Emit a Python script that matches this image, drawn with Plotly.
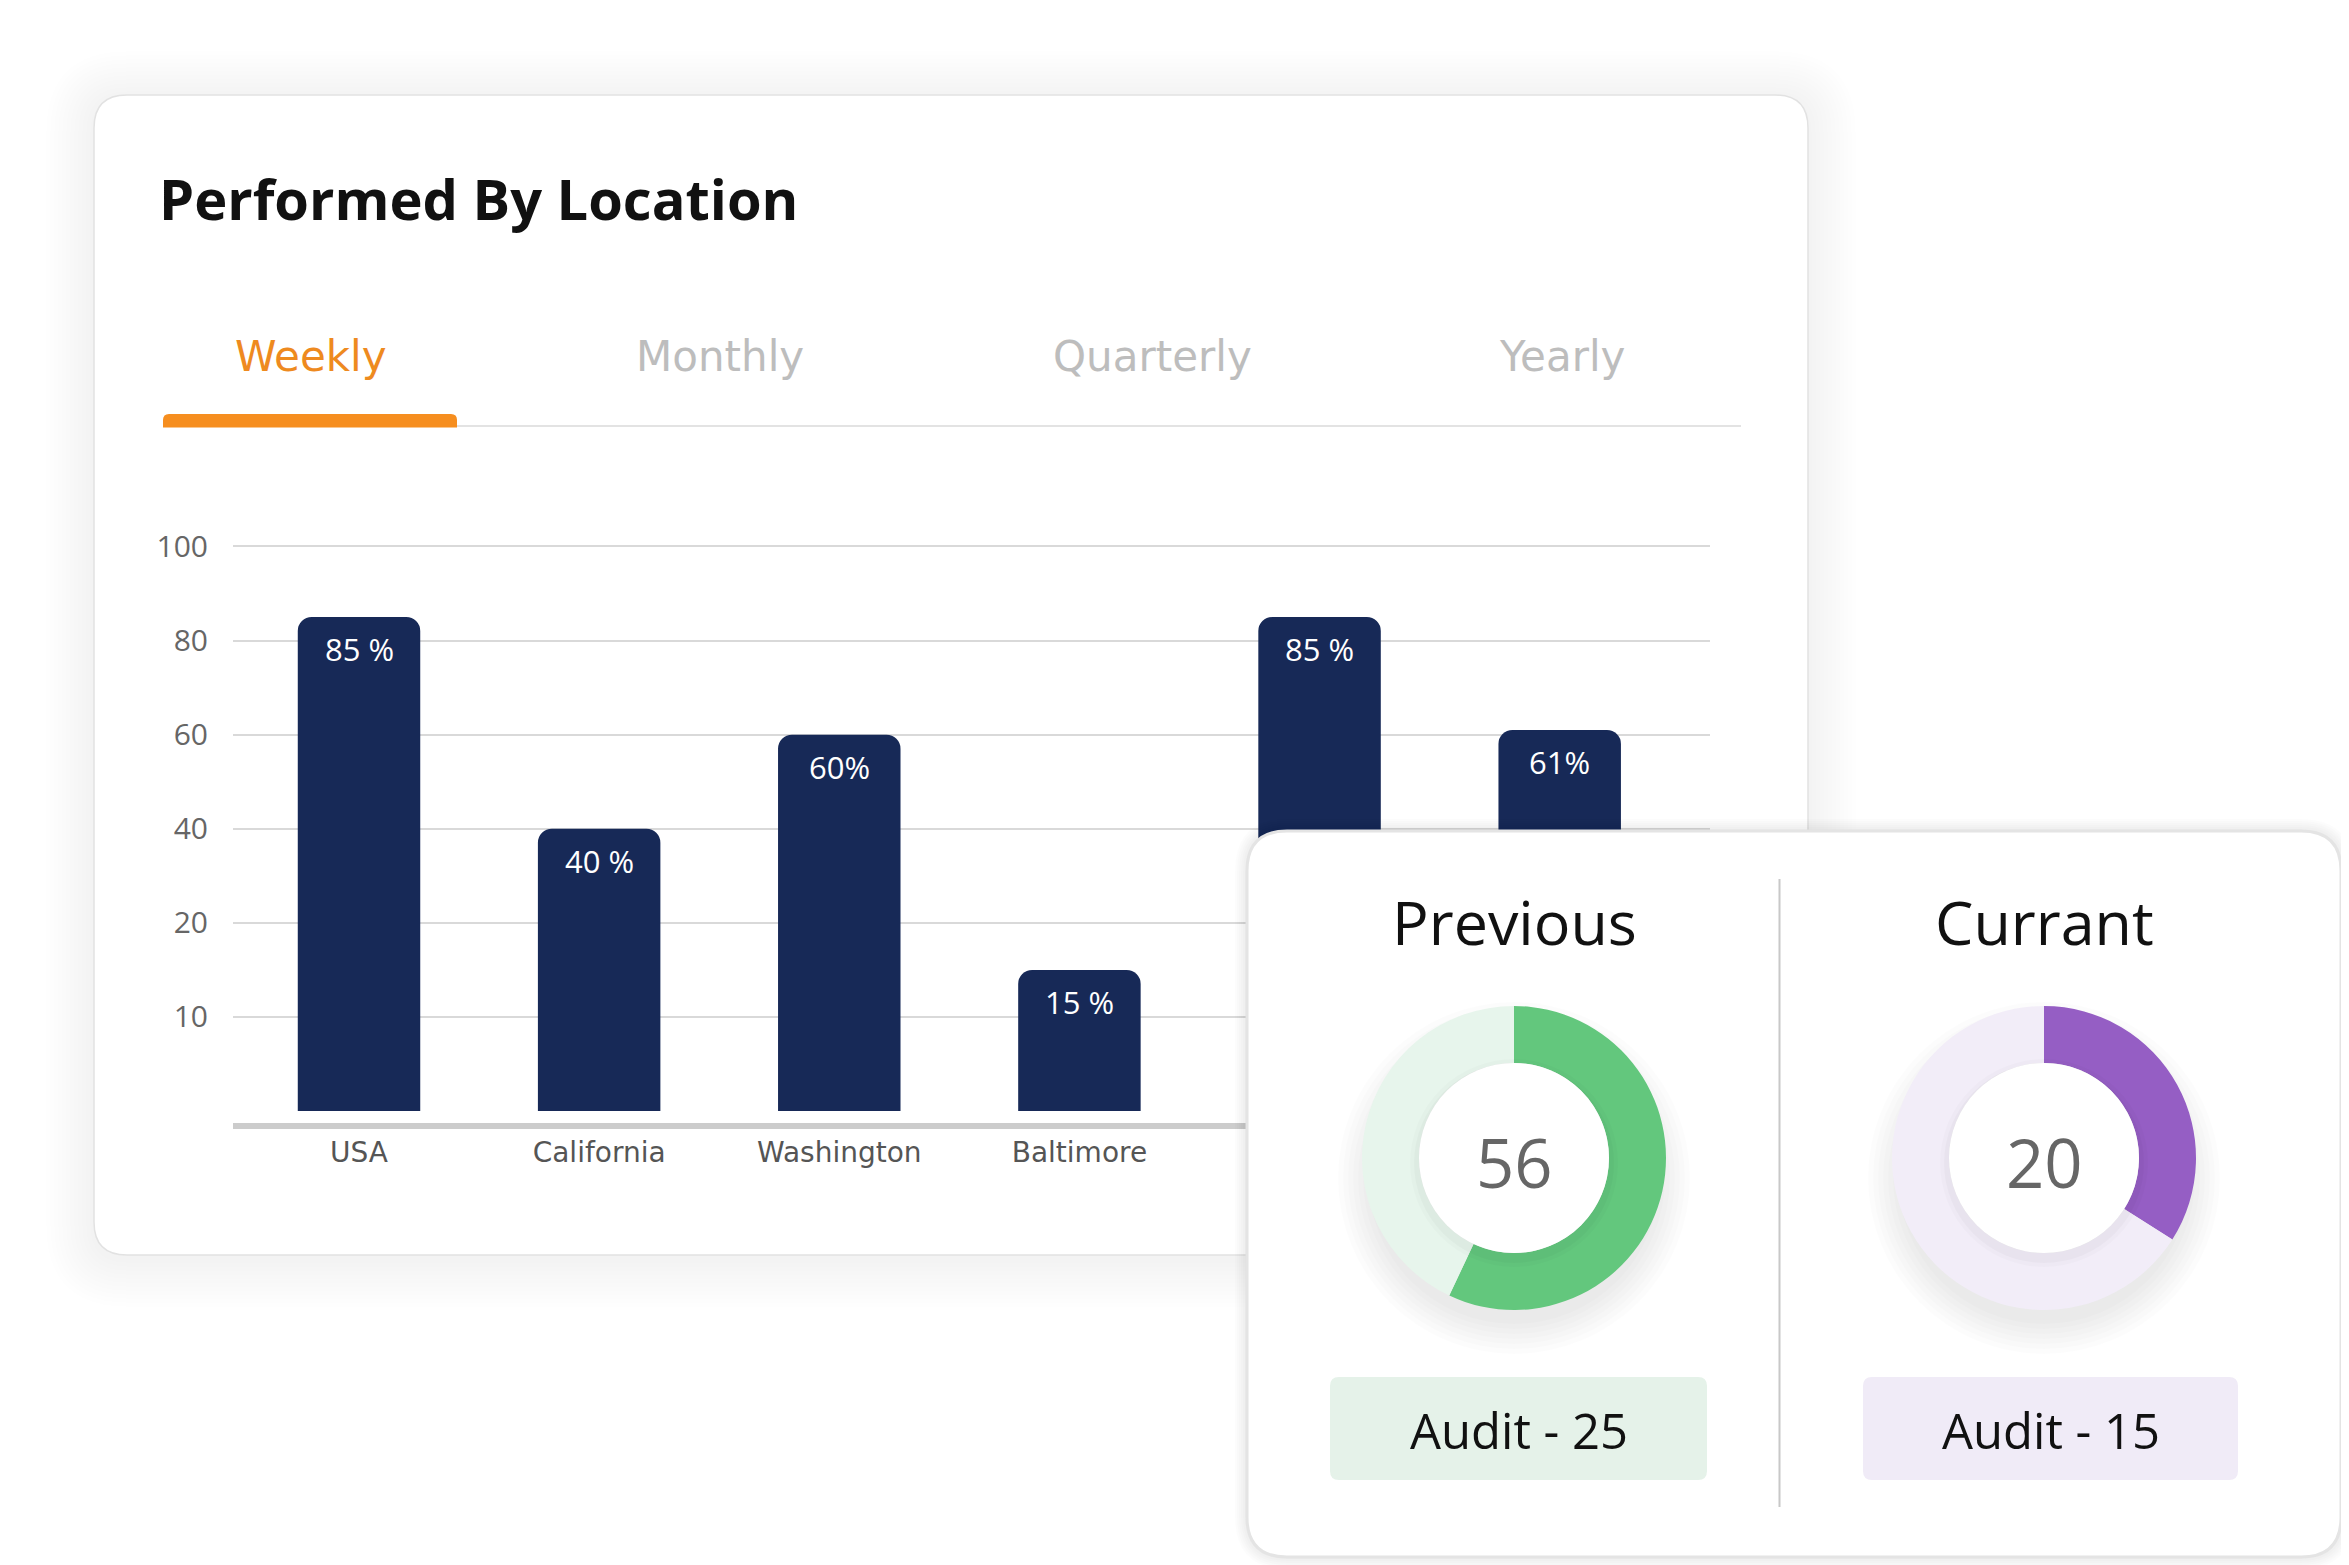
import numpy as np
import plotly.graph_objects as go

W, H = 2349, 1565
OFF = 8  # the page body margin shifts the figure by 8 px; compensate in the pixel helpers

# ---------------- data ----------------
title_text = "Performed By Location"
tabs = ["Weekly", "Monthly", "Quarterly", "Yearly"]
active_tab = "Weekly"

locations = ["USA", "California", "Washington", "Baltimore"]   # visible category labels
bar_values = [85, 40, 60, 15, 85, 61]                          # last two bars' labels are hidden under the card
bar_labels = ["85 %", "40 %", "60%", "15 %", "85 %", "61%"]
y_tick_values = [10, 20, 40, 60, 80, 100]
y_tick_labels = ["10", "20", "40", "60", "80", "100"]

donut_titles = ["Previous", "Currant"]
donut_center_values = [56, 20]
donut_filled_share = [57, 34]      # filled share of each ring (%), read from the arcs
audit_counts = [25, 15]

# ---------------- styles ----------------
NAVY = "#172957"
ORANGE = "#F68E1F"
GREEN, GREEN_L = "#63C77D", "#E7F5EC"
PURPLE, PURPLE_L = "#955EC4", "#F2EDF8"
BOX_GREEN, BOX_PURPLE = "#E5F2E9", "#F0EBF7"

# tick-based scale of the chart: ticks are equally spaced (0,10,20,40,60,80,100)
scale_pts = [0] + y_tick_values
scale_units = list(range(len(scale_pts)))


def to_axis(v):
    return np.interp(v, scale_pts, scale_units)


def px(x):
    return (x - OFF) / W


def py(y):
    return 1 - (y - OFF) / H


def rr_path(x0, y0, x1, y1, r, fx=lambda v: v, fy=lambda v: v, top_only=False):
    rb = 0 if top_only else r
    p = [
        f"M {fx(x0 + r)},{fy(y0)}",
        f"L {fx(x1 - r)},{fy(y0)}",
        f"Q {fx(x1)},{fy(y0)} {fx(x1)},{fy(y0 + r)}",
        f"L {fx(x1)},{fy(y1 - rb)}",
        f"Q {fx(x1)},{fy(y1)} {fx(x1 - rb)},{fy(y1)}",
        f"L {fx(x0 + rb)},{fy(y1)}",
        f"Q {fx(x0)},{fy(y1)} {fx(x0)},{fy(y1 - rb)}",
        f"L {fx(x0)},{fy(y0 + r)}",
        f"Q {fx(x0)},{fy(y0)} {fx(x0 + r)},{fy(y0)}",
        "Z",
    ]
    return " ".join(p)


fig = go.Figure()

# ---------------- bars ----------------
xs = list(range(len(bar_values)))
fig.add_trace(go.Bar(
    x=xs, y=to_axis(bar_values), width=0.51,
    marker=dict(color=NAVY, cornerradius=14, line=dict(width=0)),
    hoverinfo="skip", showlegend=False, xaxis="x", yaxis="y",
))

# ---------------- donuts ----------------
donut_cx = [1514, 2044]
donut_cy = 1158
donut_r = 152
ring_colors = [(GREEN, GREEN_L), (PURPLE, PURPLE_L)]
for i, share in enumerate(donut_filled_share):
    cx = donut_cx[i]
    fig.add_trace(go.Pie(
        values=[share, 100 - share], sort=False, direction="clockwise", rotation=0,
        hole=0.625, textinfo="none", hoverinfo="skip", showlegend=False,
        marker=dict(colors=list(ring_colors[i]), line=dict(width=0)),
        domain=dict(x=[px(cx - donut_r), px(cx + donut_r)],
                    y=[py(donut_cy + donut_r), py(donut_cy - donut_r)]),
    ))

shapes = []

# main card shadow + card (paper refs -> drawn beneath the bar chart)
MC = (94, 95, 1808, 1255)
for e in range(48, 0, -4):
    shapes.append(dict(type="path", xref="paper", yref="paper", layer="below",
                       path=rr_path(MC[0] - e, MC[1] - e + 4, MC[2] + e, MC[3] + e + 4, 33 + e, px, py),
                       fillcolor="rgba(0,0,0,0.005)", line=dict(width=0)))
shapes.append(dict(type="path", xref="paper", yref="paper", layer="below",
                   path=rr_path(*MC, 33, px, py), fillcolor="white",
                   line=dict(color="#e2e2e2", width=1.5)))
# tab rule and active marker
shapes.append(dict(type="line", xref="paper", yref="paper", layer="below",
                   x0=px(457), x1=px(1741), y0=py(426), y1=py(426),
                   line=dict(color="#e3e3e3", width=2)))
shapes.append(dict(type="path", xref="paper", yref="paper", layer="below",
                   path=rr_path(163, 414, 457, 427.5, 6, px, py, top_only=True),
                   fillcolor=ORANGE, line=dict(width=0)))

# overlay card (x2/y2 pixel axes -> drawn above the bar chart)
OC = (1247, 831, 2341, 1557)
for e in range(12, 0, -2):
    shapes.append(dict(type="path", xref="x2", yref="y2", layer="below",
                       path=rr_path(OC[0] - e, OC[1] - e, OC[2] + e, OC[3] + e, 40 + e),
                       fillcolor="rgba(0,0,0,0.013)", line=dict(width=0)))
shapes.append(dict(type="path", xref="x2", yref="y2", layer="below",
                   path=rr_path(*OC, 40), fillcolor="white",
                   line=dict(color="#e4e4e4", width=3)))
# donut drop shadows
for cx in donut_cx:
    for k in range(7):
        rr = donut_r - 6 + 5 * k
        shapes.append(dict(type="circle", xref="x2", yref="y2", layer="below",
                           x0=cx - rr, x1=cx + rr, y0=donut_cy + 20 - rr, y1=donut_cy + 20 + rr,
                           fillcolor="rgba(0,0,0,0.011)", line=dict(width=0)))
# divider
shapes.append(dict(type="line", xref="x2", yref="y2", layer="below",
                   x0=1779.5, x1=1779.5, y0=879, y1=1507, line=dict(color="#c8c8c8", width=2)))
# audit boxes
box_x = [(1330, 1707), (1863, 2238)]
box_fill = [BOX_GREEN, BOX_PURPLE]
for i in range(2):
    shapes.append(dict(type="path", xref="x2", yref="y2", layer="below",
                       path=rr_path(box_x[i][0], 1377, box_x[i][1], 1480, 9),
                       fillcolor=box_fill[i], line=dict(width=0)))
# raised inner discs of the donuts (above the pies)
hole_r = donut_r * 0.625
for cx in donut_cx:
    for k, a in [(9, 0.014), (5, 0.022)]:
        rr = hole_r + k
        shapes.append(dict(type="circle", xref="x2", yref="y2", layer="above",
                           x0=cx - rr, x1=cx + rr, y0=donut_cy + 5 - rr, y1=donut_cy + 5 + rr,
                           fillcolor=f"rgba(0,0,0,{a})", line=dict(width=0)))
    shapes.append(dict(type="circle", xref="x2", yref="y2", layer="above",
                       x0=cx - hole_r, x1=cx + hole_r, y0=donut_cy - hole_r, y1=donut_cy + hole_r,
                       fillcolor="white", line=dict(width=0)))

# ---------------- annotations ----------------
ann = []
ann.append(dict(text=title_text, x=157, y=198, xref="x2", yref="y2", xanchor="left", yanchor="middle",
                showarrow=False, font=dict(family="Open Sans", size=56, color="#111111", weight=700)))
tab_x = [311, 720, 1152, 1562]
for t, tx in zip(tabs, tab_x):
    ann.append(dict(text=t, x=tx, y=356, xref="x2", yref="y2", xanchor="center", yanchor="middle",
                    showarrow=False,
                    font=dict(family="DejaVu Sans", size=42,
                              color="#EE8A1F" if t == active_tab else "#BDBDBD")))
for i, (v, lab) in enumerate(zip(bar_values, bar_labels)):
    ann.append(dict(text=lab, x=i, y=float(to_axis(v)), xref="x", yref="y", yanchor="middle",
                    yshift=-32, showarrow=False,
                    font=dict(family="Open Sans", size=31, color="white", weight=500)))
for i in range(2):
    cx = donut_cx[i]
    ann.append(dict(text=donut_titles[i], x=cx, y=921, xref="x2", yref="y2", showarrow=False,
                    yanchor="middle",
                    font=dict(family="Open Sans", size=61, color="#111111", weight=500)))
    ann.append(dict(text=str(donut_center_values[i]), x=cx, y=1162, xref="x2", yref="y2",
                    showarrow=False, yanchor="middle",
                    font=dict(family="Open Sans", size=67, color="#666666")))
    ann.append(dict(text=f"Audit - {audit_counts[i]}", x=(box_x[i][0] + box_x[i][1]) / 2, y=1430,
                    xref="x2", yref="y2", showarrow=False, yanchor="middle",
                    font=dict(family="Open Sans", size=49, color="#111111", weight=500)))

# ---------------- layout ----------------
x_px0, x_px1 = 233, 1710
y_bot_px, y_top_px = 1122.7, 518.2
fig.update_layout(
    width=W, height=H, margin=dict(l=0, r=0, t=0, b=0),
    paper_bgcolor="white", plot_bgcolor="rgba(0,0,0,0)",
    showlegend=False,
    xaxis=dict(domain=[px(x_px0), px(x_px1)], range=[-0.5247, 5.6259], anchor="y",
               tickvals=list(range(len(locations))), ticktext=locations,
               tickfont=dict(family="DejaVu Sans", size=28, color="#555555"),
               showgrid=False, zeroline=False, showline=True, linecolor="#cccccc", linewidth=6,
               ticks="", fixedrange=True),
    yaxis=dict(domain=[py(y_bot_px), py(y_top_px)], range=[-0.124, 6.3], anchor="x",
               tickvals=[float(v) for v in to_axis(y_tick_values)], ticktext=y_tick_labels,
               tickfont=dict(family="Open Sans", size=30, color="#666666"),
               showgrid=True, gridcolor="#d9d9d9", gridwidth=2, zeroline=False, showline=False,
               ticks="", ticklabelstandoff=24, fixedrange=True),
    xaxis2=dict(domain=[0, 1], range=[OFF, W + OFF], anchor="y2", visible=False, fixedrange=True),
    yaxis2=dict(domain=[0, 1], range=[H + OFF, OFF], anchor="x2", visible=False, fixedrange=True),
    shapes=shapes,
    annotations=ann,
)

fig.write_html("out.html")
